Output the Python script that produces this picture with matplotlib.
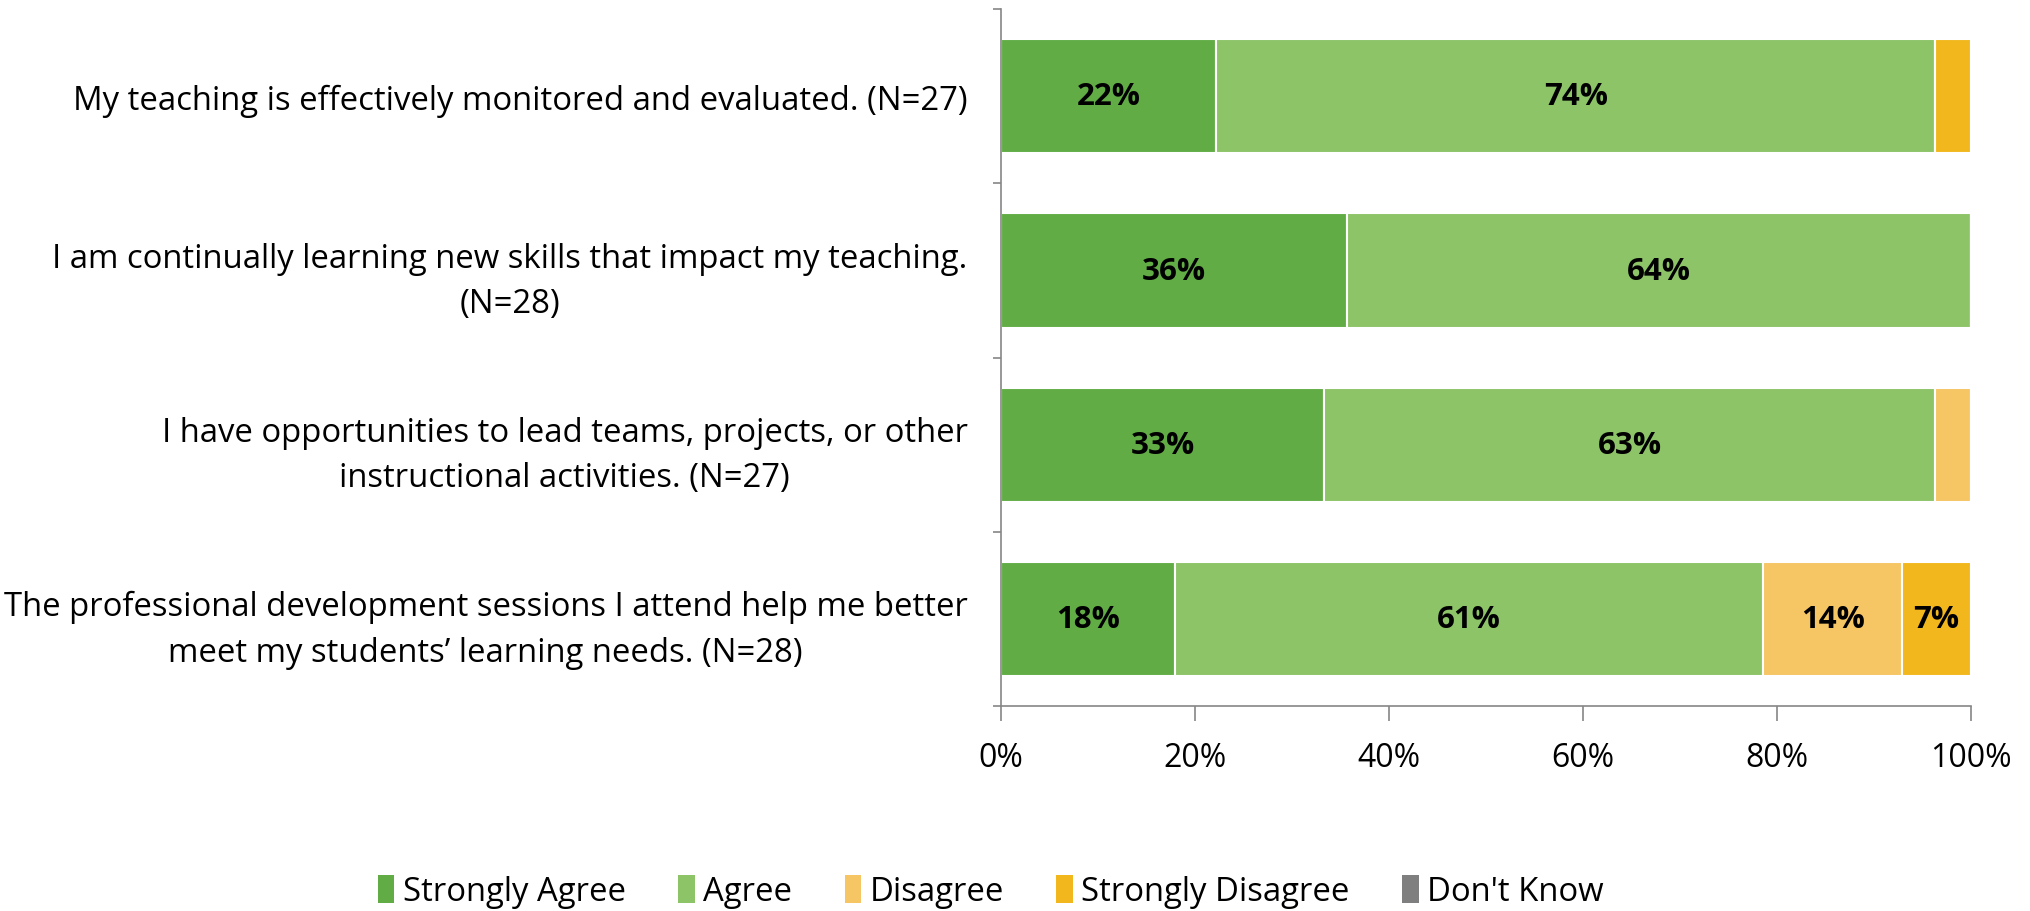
import numpy as np
import matplotlib
matplotlib.use('Agg')
from matplotlib import pyplot as plt
from matplotlib.patches import Patch
from matplotlib.ticker import FixedLocator, NullFormatter

plt.rcParams['font.family'] = ['Open Sans', 'DejaVu Sans']

# survey statements, top to bottom
statements = [
    'My teaching is effectively monitored and evaluated. (N=27)',
    'I am continually learning new skills that impact my teaching.\n(N=28)',
    'I have opportunities to lead teams, projects, or other\ninstructional activities. (N=27)',
    'The professional development sessions I attend help me better\nmeet my students\u2019 learning needs. (N=28)',
]
responses = ['Strongly Agree', 'Agree', 'Disagree', 'Strongly Disagree', "Don't Know"]
colors = ['#62AC46', '#8DC468', '#F6C564', '#F2B71D', '#7F7F7F']

# percent of respondents per statement
strongly_agree = [22.2, 35.7, 33.3, 17.9]
agree = [74.1, 64.3, 63.0, 60.7]
disagree = [0.0, 0.0, 3.7, 14.3]
strongly_disagree = [3.7, 0.0, 0.0, 7.1]
dont_know = [0.0, 0.0, 0.0, 0.0]

series = [strongly_agree, agree, disagree, strongly_disagree, dont_know]

fig = plt.figure(figsize=(20.3, 9.12), dpi=100)
ax = fig.add_axes([0.4931, 0.2248, 0.4778, 0.764])

y = np.arange(len(statements))
left = np.zeros(len(statements))
for vals, col, name in zip(series, colors, responses):
    vals = np.array(vals)
    ax.barh(y, vals, left=left, height=0.655, color=col, edgecolor='white',
            linewidth=1.5, label=name)
    for yi, (l, v) in enumerate(zip(left, vals)):
        if v >= 5:
            ax.text(l + v / 2, yi, '%d%%' % round(v), ha='center', va='center',
                    fontsize=22.5, fontweight='bold', color='black')
    left += vals

ax.set_xlim(0, 100)
ax.set_ylim(len(statements) - 0.5, -0.5)

# category boundaries get tick marks, centres get the labels
ax.yaxis.set_major_locator(FixedLocator(np.arange(-0.5, len(statements), 1.0)))
ax.yaxis.set_major_formatter(NullFormatter())
ax.set_yticks(y, minor=True)
ax.set_yticklabels(statements, minor=True, fontsize=23.7, multialignment='center',
                   linespacing=1.5)
ax.tick_params(axis='y', which='major', length=6, width=1.2, color='#868686', direction='out')
ax.tick_params(axis='y', which='minor', length=0, pad=24)

ax.set_xticks(np.arange(0, 101, 20))
ax.set_xticklabels(['%d%%' % t for t in range(0, 101, 20)], fontsize=23)
ax.tick_params(axis='x', length=11, width=1.2, color='#868686', pad=14)

for s in ['top', 'right']:
    ax.spines[s].set_visible(False)
for s in ['left', 'bottom']:
    ax.spines[s].set_color('#868686')
    ax.spines[s].set_linewidth(1.2)

handles = [Patch(facecolor=c, label=n) for c, n in zip(colors, responses)]
fig.legend(handles=handles, loc='center', bbox_to_anchor=(0.488, 0.021), ncol=5,
           frameon=False, fontsize=23.7, handlelength=0.5, handleheight=0.9,
           handletextpad=0.25, columnspacing=1.6, borderaxespad=0)

fig.savefig('out.png', dpi=100)
